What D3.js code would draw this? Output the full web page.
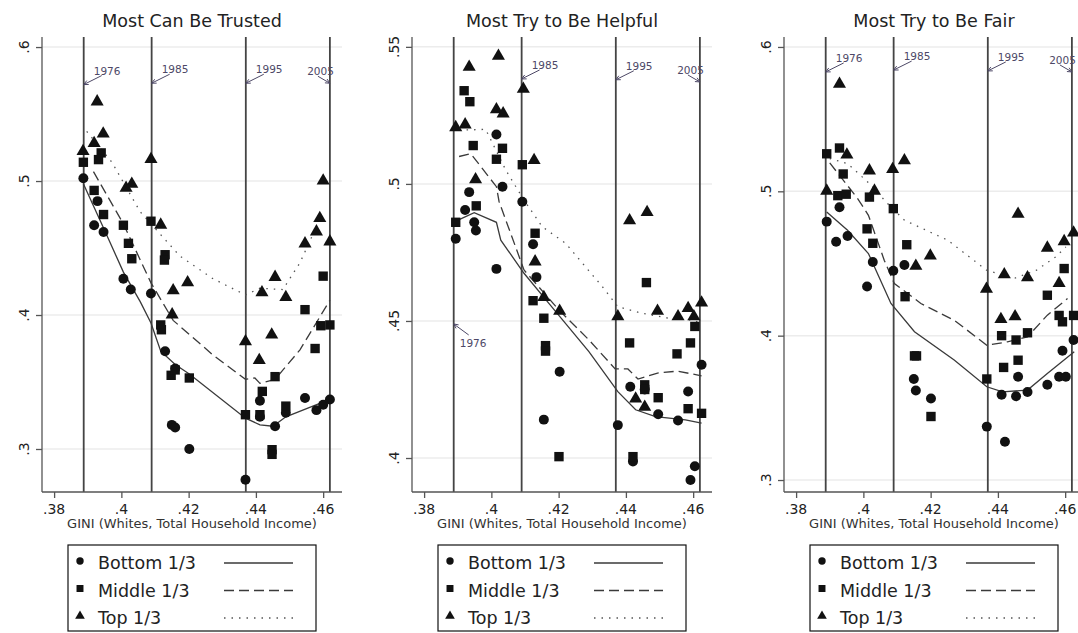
<!DOCTYPE html>
<html>
<head>
<meta charset="utf-8">
<script src="https://cdn.jsdelivr.net/npm/d3@7"></script>
<style>
  body { margin: 0; background: #fff; }
  svg { display: block; }
  text { font-family: "DejaVu Sans", sans-serif; }
</style>
</head>
<body>
<script>
const width = 1078, height = 633;

const titles = ["Most Can Be Trusted", "Most Try to Be Helpful", "Most Try to Be Fair"];
const groups = ["Bottom 1/3", "Middle 1/3", "Top 1/3"];
const xTitle = "GINI (Whites, Total Household Income)";
const xTicks = [.38, .40, .42, .44, .46];
const years = ["1976", "1985", "1995", "2005"];
const yearGini = [.3888, .409, .437, .462];

// trust
const trustTicks = [.3, .4, .5, .6];
const trustBottom = [[.3887,.502],[.3929,.485],[.3919,.467],[.3947,.462],[.4006,.427],[.4028,.419],[.4088,.416],[.413,.373],[.416,.360],[.415,.318],[.416,.316],[.4202,.300],[.4369,.277],[.4412,.336],[.4412,.324],[.4457,.317],[.4489,.327],[.4546,.338],[.458,.329],[.460,.333],[.462,.337]];
const trustMiddle = [[.3887,.514],[.394,.521],[.3932,.516],[.3919,.493],[.3947,.475],[.4006,.467],[.4021,.4535],[.4031,.442],[.4088,.470],[.413,.445],[.4128,.441],[.4117,.3926],[.4119,.389],[.4148,.355],[.416,.359],[.4202,.353],[.4369,.3256],[.4412,.3256],[.4419,.343],[.4457,.354],[.4448,.2995],[.4448,.296],[.4489,.332],[.4546,.404],[.4576,.375],[.46,.429],[.4593,.392],[.462,.3926]];
const trustTop = [[.3928,.560],[.3946,.536],[.3919,.529],[.3886,.523],[.4014,.4955],[.4031,.4985],[.4088,.517],[.4117,.468],[.4154,.419],[.4197,.425],[.4151,.401],[.4369,.381],[.4418,.4175],[.4457,.429],[.4489,.414],[.441,.367],[.4447,.386],[.4546,.454],[.458,.463],[.459,.473],[.46,.501],[.462,.4555]];
const trustBottomFit = [[.3887,.498],[.3947,.465],[.4006,.432],[.4056,.410],[.4088,.394],[.4117,.373],[.416,.363],[.4202,.356],[.4369,.323],[.4412,.318],[.4451,.317],[.4489,.324],[.462,.337]];
const trustMiddleFit = [[.3917,.507],[.4006,.468],[.4088,.424],[.4154,.396],[.4273,.370],[.4369,.352],[.4397,.353],[.4412,.349],[.4457,.352],[.4531,.374],[.462,.411]];
const trustTopFit = [[.3897,.537],[.3972,.514],[.4056,.477],[.4174,.444],[.4273,.427],[.4369,.415],[.4412,.420],[.448,.419],[.4531,.439],[.458,.466]];
const trustNotes = [.572, .573, .573, .573];

// helpful
const helpTicks = [.40, .45, .50, .55];
const helpBottom = [[.3894,.480],[.3922,.4905],[.3934,.497],[.3949,.486],[.3954,.483],[.4015,.518],[.4033,.499],[.4015,.469],[.4092,.4935],[.4124,.478],[.4134,.466],[.4156,.414],[.4203,.4315],[.4376,.412],[.4413,.426],[.4456,.425],[.4496,.416],[.4555,.4137],[.4585,.4243],[.4625,.434],[.4421,.3987],[.4605,.397],[.4592,.392]];
const helpMiddle = [[.3919,.534],[.3936,.530],[.3946,.514],[.4015,.509],[.4033,.513],[.3894,.486],[.3955,.492],[.4092,.507],[.413,.482],[.4124,.4574],[.4156,.451],[.4161,.441],[.4161,.439],[.4201,.4005],[.4411,.442],[.4461,.464],[.4456,.4267],[.4456,.425],[.4496,.422],[.4552,.438],[.4592,.442],[.4605,.448],[.4585,.418],[.4625,.4163],[.4421,.4005]];
const helpTop = [[.3934,.543],[.4021,.547],[.3894,.521],[.3922,.522],[.4015,.5275],[.4035,.526],[.4095,.535],[.4127,.509],[.3953,.502],[.413,.472],[.4156,.459],[.4203,.454],[.4376,.452],[.4411,.487],[.4463,.490],[.4494,.454],[.4555,.452],[.4585,.455],[.4602,.452],[.4625,.457],[.4429,.422],[.4456,.419]];
const helpBottomFit = [[.3904,.487],[.3949,.4895],[.4015,.486],[.4028,.4795],[.4097,.4674],[.4171,.4564],[.429,.4388],[.4376,.4242],[.4429,.4176],[.4488,.4151],[.4577,.4139],[.4625,.4127]];
const helpMiddleFit = [[.3904,.510],[.3939,.511],[.4015,.499],[.4023,.4935],[.4097,.4686],[.4201,.454],[.429,.4431],[.4368,.4325],[.4406,.4325],[.4436,.4288],[.4494,.431],[.4553,.4317],[.4625,.430]];
const helpTopFit = [[.3904,.5196],[.3983,.5199],[.4043,.505],[.4097,.4941],[.4151,.4844],[.4221,.4783],[.433,.4625],[.4376,.4552],[.4448,.4528],[.4528,.451],[.4597,.4503],[.4625,.4491]];
const helpNotes = [.4489, .5383, .538, .5372];

// fair
const fairTicks = [.3, .4, .5, .6];
const fairBottom = [[.3891,.479],[.3919,.465],[.3953,.469],[.3929,.489],[.4028,.451],[.4011,.434],[.4089,.445],[.4122,.449],[.415,.370],[.4156,.362],[.4201,.3565],[.4367,.337],[.4421,.3265],[.4411,.359],[.4454,.358],[.4488,.361],[.446,.3715],[.4547,.366],[.4582,.3715],[.4602,.3715],[.4592,.3895],[.4625,.397]];
const fairMiddle = [[.3891,.526],[.3929,.530],[.394,.512],[.3924,.497],[.3949,.498],[.4018,.496],[.4011,.474],[.4028,.464],[.4089,.488],[.4129,.463],[.4124,.427],[.4152,.386],[.4158,.386],[.4201,.344],[.4367,.370],[.4411,.400],[.4454,.397],[.4488,.402],[.4417,.378],[.446,.383],[.4547,.428],[.4597,.4465],[.4582,.414],[.4592,.4096],[.4625,.414]];
const fairTop = [[.3929,.575],[.3891,.501],[.3951,.526],[.4018,.515],[.4033,.501],[.4087,.516],[.4122,.522],[.4156,.449],[.4199,.456],[.4366,.433],[.4419,.443],[.446,.485],[.4488,.441],[.4409,.412],[.4451,.414],[.4547,.4615],[.4582,.437],[.4597,.466],[.4625,.472]];
const fairBottomFit = [[.3891,.4857],[.3953,.473],[.4015,.4569],[.4082,.4223],[.4152,.4027],[.427,.3831],[.4367,.3646],[.4414,.3611],[.4488,.3623],[.4547,.3738],[.4627,.3888]];
const fairMiddleFit = [[.39,.5197],[.3983,.495],[.4015,.4834],[.4062,.4523],[.4092,.4361],[.4171,.4223],[.427,.4107],[.4367,.3934],[.4428,.3957],[.4488,.3992],[.4547,.4142],[.4607,.4257]];
const fairTopFit = [[.39,.5227],[.3953,.5192],[.4018,.5054],[.4072,.4915],[.4122,.48],[.4251,.4661],[.4366,.4454],[.4448,.4396],[.4515,.4454],[.4572,.4546],[.4602,.4615]];
const fairNotes = [.5827, .584, .5834, .5827];

const panels = [
  { title: titles[0], yDomain: [.2679, .6075], ticks: trustTicks, pts: [trustBottom, trustMiddle, trustTop], fits: [trustBottomFit, trustMiddleFit, trustTopFit], notes: trustNotes },
  { title: titles[1], yDomain: [.3876, .5536], ticks: helpTicks, pts: [helpBottom, helpMiddle, helpTop], fits: [helpBottomFit, helpMiddleFit, helpTopFit], notes: helpNotes },
  { title: titles[2], yDomain: [.2917, .6069], ticks: fairTicks, pts: [fairBottom, fairMiddle, fairTop], fits: [fairBottomFit, fairMiddleFit, fairTopFit], notes: fairNotes }
];

const lefts = [42, 412, 784];
const plotW = 300, plotTop = 37, plotBottom = 492;
const ink = "#111", lineInk = "#3a3a3a", noteInk = "#4d4866";
const dashes = [null, "10,5", "1.5,6"];
const shapes = [d3.symbolCircle, d3.symbolSquare, d3.symbolTriangle];
const sizes = [78, 88, 74];
const fmt = v => d3.format(".2~f")(v).replace(/^0/, "");

const svg = d3.select("body").append("svg")
  .attr("width", width).attr("height", height);

panels.forEach((p, i) => {
  const x = d3.scaleLinear().domain([.3764, .4656]).range([0, plotW]);
  const y = d3.scaleLinear().domain(p.yDomain).range([plotBottom, plotTop]);
  const g = svg.append("g").attr("transform", `translate(${lefts[i]},0)`);

  g.append("text").attr("x", plotW / 2).attr("y", 27)
    .attr("text-anchor", "middle").attr("font-size", 17.5).attr("fill", "#222")
    .text(p.title);

  // faint grid
  g.selectAll(".grid").data(p.ticks).enter().append("line")
    .attr("x1", 0).attr("x2", plotW)
    .attr("y1", d => y(d)).attr("y2", d => y(d))
    .attr("stroke", "#ececec").attr("stroke-width", 1.5);

  // year lines
  g.selectAll(".yr").data(yearGini).enter().append("line")
    .attr("x1", d => x(d)).attr("x2", d => x(d))
    .attr("y1", plotTop).attr("y2", plotBottom)
    .attr("stroke", "#444").attr("stroke-width", 1.8);

  // arrows + year labels
  years.forEach((yr, k) => {
    const hx = x(yearGini[k]), hy = y(p.notes[k]);
    const below = (i === 1 && k === 0);
    let tx, ty, lx, ly, anchor = "start";
    if (below) { tx = hx + 15; ty = hy + 11; lx = hx + 6; ly = hy + 23; }
    else if (k === 3) { tx = hx - 12; ty = hy - 7; lx = hx + 4; ly = hy - 8; anchor = "end"; }
    else { tx = hx + 18; ty = hy - 9; lx = hx + 10; ly = hy - 10; }
    const a = Math.atan2(ty - hy, tx - hx);
    const b = 5;
    g.append("path")
      .attr("d", `M${tx},${ty}L${hx},${hy}M${hx + b * Math.cos(a + 0.45)},${hy + b * Math.sin(a + 0.45)}L${hx},${hy}L${hx + b * Math.cos(a - 0.45)},${hy + b * Math.sin(a - 0.45)}`)
      .attr("fill", "none").attr("stroke", noteInk).attr("stroke-width", 1);
    g.append("text").attr("x", lx).attr("y", ly)
      .attr("text-anchor", anchor).attr("font-size", 10.5).attr("fill", noteInk)
      .text(yr);
  });

  // fitted lines
  const line = d3.line().x(d => x(d[0])).y(d => y(d[1]));
  p.fits.forEach((f, k) => {
    g.append("path").datum(f).attr("d", line)
      .attr("fill", "none").attr("stroke", k === 2 ? "#555" : lineInk).attr("stroke-width", 1.3)
      .attr("stroke-dasharray", dashes[k]);
  });

  // markers
  p.pts.forEach((s, k) => {
    g.selectAll(".m" + k).data(s).enter().append("path")
      .attr("d", d3.symbol().type(shapes[k]).size(sizes[k]))
      .attr("transform", d => `translate(${x(d[0])},${y(d[1]) + (k === 2 ? 1 : 0)})`)
      .attr("fill", ink);
  });

  // axes
  const ya = g.append("g").call(d3.axisLeft(y).tickValues(p.ticks).tickSize(6).tickFormat(""));
  ya.select(".domain").attr("d", `M0,${plotTop}V${plotBottom}`).attr("stroke", "#555").attr("stroke-width", 1.3);
  ya.selectAll(".tick line").attr("stroke", "#555").attr("stroke-width", 1.3);
  g.selectAll(".ylab").data(p.ticks).enter().append("text")
    .attr("transform", d => `translate(-13,${y(d)}) rotate(-90)`)
    .attr("text-anchor", "middle").attr("font-size", 14).attr("fill", "#222")
    .text(fmt);

  const xa = g.append("g").attr("transform", `translate(0,${plotBottom})`)
    .call(d3.axisBottom(x).tickValues(xTicks).tickSize(6).tickFormat(""));
  xa.select(".domain").attr("d", `M0,0H${plotW}`).attr("stroke", "#555").attr("stroke-width", 1.3);
  xa.selectAll(".tick line").attr("stroke", "#555").attr("stroke-width", 1.3);
  g.selectAll(".xlab").data(xTicks).enter().append("text")
    .attr("x", d => x(d)).attr("y", 514)
    .attr("text-anchor", "middle").attr("font-size", 14).attr("fill", "#222")
    .text(fmt);
  g.append("text").attr("x", plotW / 2).attr("y", 528)
    .attr("text-anchor", "middle").attr("font-size", 13).attr("fill", "#333")
    .text(xTitle);

  // legend
  const lg = g.append("g").attr("transform", "translate(26,545)");
  lg.append("rect").attr("width", 248).attr("height", 86)
    .attr("fill", "#fff").attr("stroke", "#111").attr("stroke-width", 1.2);
  groups.forEach((name, k) => {
    const cy = 18 + k * 27.5;
    lg.append("path").attr("d", d3.symbol().type(shapes[k]).size(sizes[k] * 0.55))
      .attr("transform", `translate(12,${cy - 2})`).attr("fill", ink);
    lg.append("text").attr("x", 30).attr("y", cy + 6)
      .attr("font-size", 17.5).attr("fill", "#222").text(name);
    lg.append("line").attr("x1", 156).attr("x2", 225).attr("y1", cy).attr("y2", cy)
      .attr("stroke", k === 2 ? "#555" : lineInk).attr("stroke-width", 1.3).attr("stroke-dasharray", dashes[k]);
  });
});
</script>
</body>
</html>
